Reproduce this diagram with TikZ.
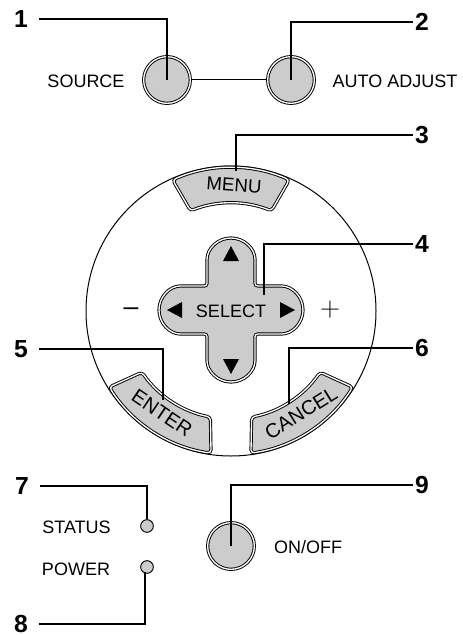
\documentclass[tikz,border=0pt]{standalone}
\usepackage{fontspec}
\setmainfont{Liberation Sans}
\usetikzlibrary{calc}
\newcommand{\lblsize}{\fontsize{13.5}{16}\selectfont}
\definecolor{keygray}{HTML}{CCCCCC}
\tikzset{
  keyface/.style={draw=black, line width=0.7pt, double=white, double distance=1pt, fill=keygray},
  roundkey/.style={keyface, circle, inner sep=0pt, minimum size=35pt},
  ledkey/.style={draw=black, line width=0.7pt, fill=keygray, circle, inner sep=0pt, minimum size=9.5pt},
  leader/.style={line width=1.3pt},
  thinline/.style={line width=0.75pt},
  lbl/.style={font=\lblsize, inner sep=0pt},
  numlbl/.style={font=\fontsize{18.5}{20}\selectfont\bfseries, inner sep=0pt},
  numleft/.style={numlbl, outer xsep=8.5pt},
  numright/.style={numlbl, outer xsep=1.5pt}
}
\begin{document}
\begin{tikzpicture}[x=0.75pt, y=-0.75pt]
  \useasboundingbox (0,0) rectangle (462,635);
  \coordinate (dial) at (231,311);
  \draw[thinline] (dial) circle (145);
  % top keys
  \node[roundkey] (source) at (167,80) {};
  \node[roundkey] (autoadj) at (291,80) {};
  \node[roundkey] (onoff) at (231,546) {};
  \draw[thinline] (source) -- (autoadj);
  \node[lbl] (sourcelbl) at (86,81) {SOURCE};
  \node[lbl] (autolbl) at (395,81) {AUTO ADJUST};
  \node[lbl] (onofflbl) at (308,547) {ON/OFF};
  % curved keys
  \foreach \a/\b/\c/\d in {246/294/292/248, 98/148/145.5/101, 82/32/34.5/79}
    \draw[keyface, rounded corners=2.5pt] (dial) ++(\a:143.5) arc[start angle=\a, end angle=\b, radius=143.5]
      -- ($(dial)+(\c:108)$) arc[start angle=\c, end angle=\d, radius=108] -- cycle;
  \node[lbl, font=\fontsize{14}{16}\selectfont] (menukey) at (234,185) [rotate=-4] {MENU};
  \node[lbl, font=\fontsize{15}{16}\selectfont] (enterkey) at (162,413) [rotate=-34] {ENTER};
  \node[lbl, font=\fontsize{15}{16}\selectfont] (cancelkey) at (301,413) [rotate=32] {CANCEL};
  % select pad
  \draw[keyface, rounded corners=2pt] (207,286) -- (207,262) arc[start angle=180, end angle=360, radius=24]
    -- (255,286) -- (279,286) arc[start angle=270, end angle=450, radius=24]
    -- (255,334) -- (255,358) arc[start angle=0, end angle=180, radius=24]
    -- (207,334) -- (183,334) arc[start angle=90, end angle=270, radius=24] -- cycle;
  \foreach \r in {0,90,180,270}
    \fill[shift={(231,310)}, rotate=\r] (64,0) -- (49,8) -- (49,-8) -- cycle;
  \node[lbl] (selectkey) at (231,311) {SELECT};
  \node[lbl, font=\fontsize{20}{20}\selectfont] (minuslbl) at (131,312) {–};
  \node[lbl, font=\fontsize{20}{20}\selectfont] (pluslbl) at (330,310) {$+$};
  % indicators
  \node[ledkey] (status) at (147,526) {};
  \node[ledkey] (power) at (147,567) {};
  \node[lbl] (statuslbl) at (76.5,527) {STATUS};
  \node[lbl] (powerlbl) at (76,569) {POWER};
  % numbers
  \foreach \n/\x/\y in {1/21/19, 5/21/349, 7/22/486, 8/21/624}
    \node[numleft] (n\n) at (\x,\y) {\n};
  \foreach \n/\x/\y in {2/422/22, 3/422/135, 4/422/244, 6/422/348, 9/422/485}
    \node[numright] (n\n) at (\x,\y) {\n};
  % leader ends
  \coordinate (menutip) at (236,171);
  \coordinate (selecttip) at (264,295);
  \coordinate (entertip) at (163,400);
  \coordinate (canceltip) at (289,404);
  \coordinate (powertip) at (145,572);
  \draw[leader] (n1.east) -| (source.center);
  \draw[leader] (n2.west) -| (autoadj.center);
  \draw[leader] (n3.west) -| (menutip);
  \draw[leader] (n4.west) -| (selecttip);
  \draw[leader] (n5.east) -| (entertip);
  \draw[leader] (n6.west) -| (canceltip);
  \draw[leader] (n7.east) -| (status.north);
  \draw[leader] (n8.east) -| (powertip);
  \draw[leader] (n9.west) -| (onoff.center);
\end{tikzpicture}
\end{document}
